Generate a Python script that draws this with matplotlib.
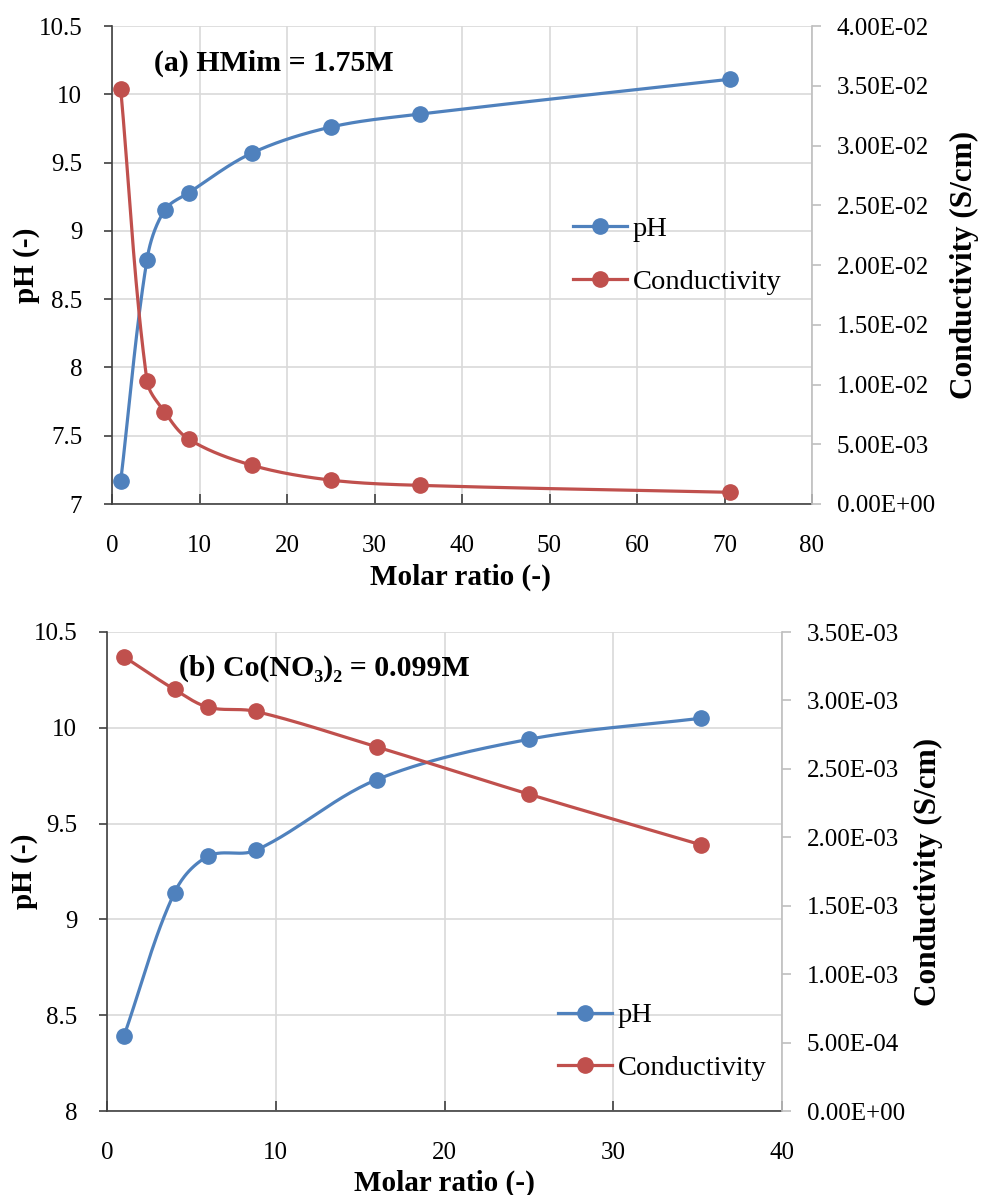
import numpy as np
import matplotlib
matplotlib.use('Agg')
import matplotlib.pyplot as plt
from matplotlib.lines import Line2D
from matplotlib.ticker import FuncFormatter, MultipleLocator

plt.rcParams['font.family'] = ['Liberation Serif', 'DejaVu Serif']

# (a) HMim = 1.75M
ratio_a = [1, 4, 6, 8.8, 16, 25, 35.2, 70.6]
ph_a = [7.17, 8.79, 9.15, 9.28, 9.57, 9.76, 9.855, 10.11]
cond_a = [3.47e-2, 1.03e-2, 7.72e-3, 5.41e-3, 3.24e-3, 2.0e-3, 1.56e-3, 9.8e-4]

# (b) Co(NO3)2 = 0.099M
ratio_b = [1, 4, 6, 8.8, 16, 25, 35.2]
ph_b = [8.39, 9.14, 9.33, 9.36, 9.73, 9.94, 10.05]
cond_b = [3.32e-3, 3.08e-3, 2.95e-3, 2.92e-3, 2.66e-3, 2.315e-3, 1.945e-3]

BLUE = '#4F81BD'
RED = '#C0504D'
GRID = '#D9D9D9'
W, H = 982, 1195

fig = plt.figure(figsize=(W / 100, H / 100), dpi=100)


def smooth(ax, xs, ys, n=30):
    # excel style smoothed line, bezier through the points in pixel space
    pts = ax.transData.transform(np.column_stack([xs, ys]))
    p = np.vstack([pts[0], pts, pts[-1]])
    t = np.linspace(0, 1, n)[:, None]
    segs = []
    for i in range(1, len(p) - 2):
        a, d = p[i], p[i + 1]
        L = np.hypot(*(d - a)) / 3
        ta = p[i + 1] - p[i - 1]
        td = p[i + 2] - p[i]
        b = a + ta / np.hypot(*ta) * L
        c = d - td / np.hypot(*td) * L
        segs.append((1 - t) ** 3 * a + 3 * (1 - t) ** 2 * t * b + 3 * (1 - t) * t ** 2 * c + t ** 3 * d)
    out = ax.transData.inverted().transform(np.vstack(segs))
    return out[:, 0], out[:, 1]


def px_rect(l, t, r, b):
    return [l / W, 1 - b / H, (r - l) / W, (b - t) / H]


def panel(box, xs, ph, cond, xmax, ph_lo, cmax, cstep, title, title_xy, leg_xy,
          ylab_x, clab_x, xlab_xy):
    ax = fig.add_axes(px_rect(*box))
    ax2 = ax.twinx()
    ax.set_xlim(0, xmax)
    ax.set_ylim(ph_lo, 10.5)
    ax2.set_ylim(0, cmax)
    ax.xaxis.set_major_locator(MultipleLocator(10))
    ax.yaxis.set_major_locator(MultipleLocator(0.5))
    ax2.yaxis.set_major_locator(MultipleLocator(cstep))
    ax.yaxis.set_major_formatter(FuncFormatter(lambda v, p: '%g' % v))
    ax2.yaxis.set_major_formatter(FuncFormatter(lambda v, p: '%.2E' % v))

    ax.grid(True, color=GRID, lw=1.2)
    ax.set_axisbelow(True)
    for s in ['top', 'right']:
        ax.spines[s].set_visible(False)
    for s in ['top', 'left', 'bottom']:
        ax2.spines[s].set_visible(False)
    ax.spines['left'].set_color('#404040')
    ax.spines['bottom'].set_color('#404040')
    ax.spines['left'].set_linewidth(1.2)
    ax.spines['bottom'].set_linewidth(1.2)
    ax2.spines['right'].set_color('#BFBFBF')
    ax2.spines['right'].set_linewidth(1.2)

    ax.tick_params(axis='x', direction='in', length=7, width=1.2, color='#404040',
                   pad=22, labelsize=18)
    ax.tick_params(axis='y', direction='out', length=5.5, width=1.2, color='#404040',
                   pad=16, labelsize=18)
    ax2.tick_params(axis='y', direction='out', length=6.5, width=1.2, color='#BFBFBF',
                    pad=11.5, labelsize=18)

    sx, sy = smooth(ax, xs, ph)
    ax.plot(sx, sy, color=BLUE, lw=2.3, solid_capstyle='round')
    ax.plot(xs, ph, 'o', color=BLUE, ms=11)
    sx, sy = smooth(ax2, xs, cond)
    ax2.plot(sx, sy, color=RED, lw=2.3, solid_capstyle='round')
    ax2.plot(xs, cond, 'o', color=RED, ms=11)

    fig.text(title_xy[0] / W, 1 - title_xy[1] / H, title, fontsize=21.5,
             fontweight='bold', ha='left', va='center')
    yc = 1 - (box[1] + box[3]) / 2 / H
    fig.text(ylab_x / W, yc, 'pH (-)', rotation=90, fontsize=21, fontweight='bold',
             ha='center', va='center')
    fig.text(clab_x / W, yc, 'Conductivity (S/cm)', rotation=90, fontsize=22.5,
             fontweight='bold', ha='center', va='center')
    fig.text(xlab_xy[0] / W, 1 - xlab_xy[1] / H, 'Molar ratio (-)', fontsize=21,
             fontweight='bold', ha='center', va='center')

    handles = [Line2D([], [], color=BLUE, lw=2.3, marker='o', ms=11),
               Line2D([], [], color=RED, lw=2.3, marker='o', ms=11)]
    fig.legend(handles, ['pH', 'Conductivity'], loc='center left',
               bbox_to_anchor=(leg_xy[0] / W, 1 - leg_xy[1] / H), frameon=False,
               fontsize=20.5, borderpad=0, borderaxespad=0, handlelength=1.9,
               handletextpad=0.2, labelspacing=0.95)


panel((112, 26, 812, 504), ratio_a, ph_a, cond_a, 80, 7, 4e-2, 5e-3,
      '(a) HMim = 1.75M', (154, 63), (573, 255.5), 26, 964, (460, 577))
panel((107, 632, 782, 1111), ratio_b, ph_b, cond_b, 40, 8, 3.5e-3, 5e-4,
      '(b) Co(NO\u2083)\u2082 = 0.099M', (179, 668), (558, 1042), 25, 928, (444, 1183))

fig.savefig('out.png', dpi=100)
